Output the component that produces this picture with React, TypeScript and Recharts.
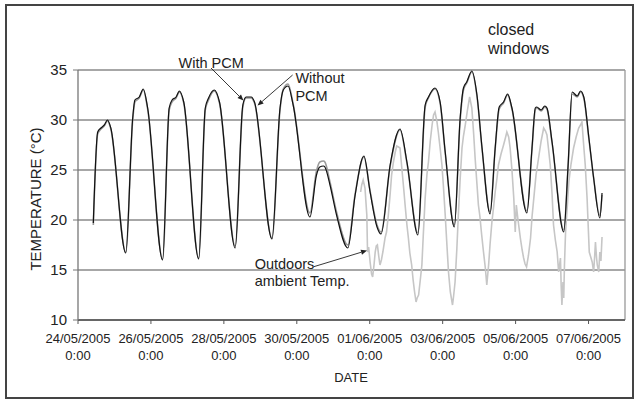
import { LineChart, Line, XAxis, YAxis, CartesianGrid, ReferenceLine } from "recharts"

// x positions in days after 24/05/2005 0:00
const tickDays = [0, 2, 4, 6, 8, 10, 12, 14]
const tickDates = [
  "24/05/2005",
  "26/05/2005",
  "28/05/2005",
  "30/05/2005",
  "01/06/2005",
  "03/06/2005",
  "05/06/2005",
  "07/06/2005"
]
const yTicks = [10, 15, 20, 25, 30, 35]

// With PCM (black)
const withPcmDays = [
  0.42, 0.54, 0.63, 0.72, 0.81, 0.9, 1.31, 1.5, 1.56, 1.68, 1.79, 1.91, 2.32, 2.5, 2.58, 2.69, 2.78, 2.9,
  3.31, 3.49, 3.58, 3.74, 3.88, 4.31, 4.52, 4.61, 4.75, 4.84, 5.32, 5.54, 5.63, 5.76, 5.9, 6.36, 6.54,
  6.63, 6.73, 6.77, 6.91, 7.09, 7.4, 7.6, 7.84, 8.01, 8.2, 8.31, 8.56, 8.83, 9.02, 9.32, 9.52, 9.61,
  9.79, 9.93, 10.07, 10.32, 10.48, 10.57, 10.66, 10.8, 10.94, 11.08, 11.3, 11.44, 11.55, 11.67, 11.78,
  11.9, 12.31, 12.45, 12.54, 12.58, 12.7, 12.8, 12.86, 13.0, 13.32, 13.44, 13.55, 13.69, 13.78, 13.87,
  14.01, 14.14, 14.31, 14.37
]
const withPcmTemps = [
  19.7, 28.8, 29.2, 29.5, 30.0, 29.2, 16.7, 30.2, 32.0, 32.3, 33.1, 31.2, 16.0, 31.2, 32.0, 32.3, 32.9, 31.8,
  16.1, 31.2, 32.2, 33.0, 31.8, 17.2, 31.5, 32.3, 32.3, 31.8, 18.1, 31.2, 33.0, 33.4, 31.5, 20.3, 24.5,
  25.3, 25.4, 25.3, 23.5, 20.5, 17.2, 22.5, 26.4, 22.8, 19.3, 18.6, 25.5, 29.1, 25.8, 18.5, 31.5, 32.3,
  33.2, 31.8, 26.8, 19.3, 30.2, 33.2, 33.8, 34.9, 32.5, 27.2, 20.6, 27.2, 31.3, 31.8, 32.6,
  31.2, 20.7, 27.2, 31.2, 31.3, 31.0, 31.4, 31.2, 27.8, 18.8, 25.5, 32.8, 32.4, 32.9, 32.3,
  28.2, 24.2, 20.2, 22.7
]

// Without PCM (dark grey)
const withoutPcmDays = [
  0.42, 0.54, 0.63, 0.72, 0.81, 0.9, 1.31, 1.5, 1.56, 1.68, 1.79, 1.91, 2.32, 2.5, 2.58, 2.69, 2.78, 2.9,
  3.31, 3.49, 3.58, 3.74, 3.88, 4.31, 4.52, 4.61, 4.75, 4.84, 5.32, 5.54, 5.63, 5.76, 5.9, 6.36, 6.54,
  6.63, 6.73, 6.77, 6.91, 7.09, 7.4, 7.6, 7.84, 8.01, 8.2, 8.31, 8.56, 8.83, 9.02, 9.32, 9.52, 9.61,
  9.79, 9.93, 10.07, 10.32, 10.48, 10.57, 10.66, 10.8, 10.94, 11.08, 11.3, 11.44, 11.55, 11.67, 11.78,
  11.9, 12.31, 12.45, 12.54, 12.58, 12.7, 12.8, 12.86, 13.0, 13.32, 13.44, 13.55, 13.69, 13.78, 13.87,
  14.01, 14.14, 14.31, 14.37
]
const withoutPcmTemps = [
  19.5, 28.6, 29.1, 29.4, 29.9, 29.1, 16.8, 30.0, 31.8, 32.2, 33.0, 31.1, 16.1, 31.0, 31.8, 32.2, 32.8, 31.7,
  16.2, 31.0, 32.0, 32.9, 31.7, 17.4, 31.3, 32.2, 32.2, 31.7, 18.2, 31.0, 33.1, 33.6, 31.6, 20.7, 24.9,
  25.8, 25.9, 25.8, 23.8, 20.8, 17.5, 22.6, 26.3, 22.9, 19.5, 18.8, 25.4, 29.0, 25.7, 18.7, 31.3, 32.2,
  33.1, 31.7, 26.7, 19.5, 30.0, 33.0, 33.7, 34.8, 32.4, 27.1, 20.8, 27.1, 31.1, 31.7, 32.5,
  31.1, 20.9, 27.1, 31.0, 31.2, 30.9, 31.3, 31.1, 27.7, 19.0, 25.4, 32.6, 32.3, 32.8, 32.2,
  28.1, 24.2, 20.4, 22.5
]

// Outdoors ambient temperature (light grey)
const outdoorDays = [
  7.75, 7.78, 7.82, 7.87, 7.92, 7.94, 7.97, 8.01, 8.05, 8.08, 8.12, 8.15, 8.18, 8.21, 8.25, 8.28, 8.32, 8.36,
  8.42, 8.46, 8.51, 8.56, 8.6, 8.65, 8.7, 8.74, 8.79, 8.83, 8.88, 8.93, 8.97, 9.02, 9.06, 9.1, 9.15, 9.19,
  9.23, 9.27, 9.3, 9.34, 9.38, 9.43, 9.47, 9.52, 9.57, 9.61, 9.66, 9.71, 9.75, 9.79, 9.84, 9.88, 9.93, 9.98,
  10.02, 10.07, 10.12, 10.16, 10.21, 10.27, 10.3, 10.34, 10.39, 10.43, 10.48, 10.53, 10.57, 10.62, 10.68,
  10.74, 10.8, 10.85, 10.89, 10.94, 10.98, 11.02, 11.07, 11.12, 11.17, 11.21, 11.26, 11.3, 11.35, 11.4,
  11.44, 11.49, 11.53, 11.6, 11.67, 11.72, 11.76, 11.81, 11.85, 11.9, 11.95, 11.99, 12.02, 12.06, 12.13,
  12.18, 12.22, 12.26, 12.3, 12.35, 12.41, 12.45, 12.5, 12.56, 12.63, 12.7, 12.77, 12.82, 12.86, 12.9,
  12.95, 13.0, 13.04, 13.09, 13.14, 13.18, 13.23, 13.25, 13.27, 13.3, 13.32, 13.34, 13.37, 13.42, 13.46,
  13.52, 13.59, 13.66, 13.73, 13.78, 13.82, 13.86, 13.91, 13.96, 14.02, 14.06, 14.1, 14.14, 14.17, 14.19,
  14.22, 14.24, 14.28, 14.31, 14.34, 14.37
]
const outdoorTemps = [
  22.8, 23.5, 24.0, 23.2, 20.5, 16.8, 17.3, 15.8, 14.6, 14.3, 15.6, 16.8, 17.4, 17.5, 16.3, 15.5, 16.0, 16.8,
  18.2, 18.8, 20.5, 22.6, 24.5, 25.8, 26.8, 27.4, 27.3, 27.2, 25.2, 23.2, 21.5, 19.5, 18.2, 16.7, 15.5, 14.0,
  12.8, 11.8, 12.2, 12.5, 13.8, 15.5, 18.6, 22.2, 24.6, 25.8, 27.9, 29.5, 30.5, 30.8, 29.9, 28.8, 27.2, 25.5,
  23.4, 20.5, 17.3, 14.8, 12.8, 11.5, 12.4, 13.8, 17.2, 20.5, 24.1, 27.2, 28.4, 29.5, 31.0,
  32.3, 31.2, 28.6, 26.2, 23.6, 21.5, 20.4, 18.5, 16.8, 15.2, 13.5, 15.5, 17.6, 19.8, 21.4,
  22.8, 24.2, 25.5, 26.6, 27.5, 28.2, 28.8, 28.3, 27.2, 25.0, 22.2, 18.8, 21.5, 20.2, 18.2,
  17.0, 16.2, 15.6, 15.3, 16.4, 18.2, 20.3, 22.2, 24.5, 26.2, 27.9, 29.2, 28.9, 28.5, 27.2,
  25.5, 22.6, 19.5, 18.0, 16.8, 14.8, 16.2, 13.4, 11.5, 13.8, 12.2, 15.5, 18.8, 21.5, 23.8,
  25.6, 27.2, 28.3, 29.2, 29.5, 29.8, 27.8, 25.5, 22.2, 16.8, 16.3, 15.8, 14.8, 16.5, 17.8,
  16.2, 15.5, 14.8, 16.8, 15.9, 18.3
]

const toPoints = (days: number[], temps: number[]) =>
  days.map((d, i) => ({ day: d, temp: temps[i] }))

const withPcm = toPoints(withPcmDays, withPcmTemps)
const withoutPcm = toPoints(withoutPcmDays, withoutPcmTemps)
const outdoor = toPoints(outdoorDays, outdoorTemps)

// two-line date tick
const DateTick = ({ x, y, payload }: any) => {
  const i = tickDays.indexOf(payload.value)
  return (
    <text x={x} y={y} textAnchor="middle" fontSize={13} fill="#222">
      <tspan x={x} dy={16.5}>{tickDates[i]}</tspan>
      <tspan x={x} dy={17.7}>0:00</tspan>
    </text>
  )
}

const Arrow = ({ x1, y1, x2, y2 }: any) => {
  const a = Math.atan2(y2 - y1, x2 - x1)
  const L = 6
  const w = 2.5
  const bx = x2 - L * Math.cos(a)
  const by = y2 - L * Math.sin(a)
  const p1 = `${bx + w * Math.sin(a)},${by - w * Math.cos(a)}`
  const p2 = `${bx - w * Math.sin(a)},${by + w * Math.cos(a)}`
  return (
    <g>
      <line x1={x1} y1={y1} x2={bx} y2={by} stroke="#222" strokeWidth={0.9} />
      <polygon points={`${x2},${y2} ${p1} ${p2}`} fill="#222" />
    </g>
  )
}

export default function App() {
  return (
    <div
      style={{
        position: "absolute",
        left: 0,
        top: 0,
        width: 639,
        height: 400,
        background: "#fff",
        fontFamily: "Arial, 'Liberation Sans', sans-serif"
      }}
    >
      <LineChart
        width={639}
        height={400}
        margin={{ top: 70, right: 14, bottom: 0, left: 0 }}
        style={{ position: "absolute", left: 0, top: 0 }}
      >
        <CartesianGrid vertical={false} stroke="#8a8a8a" strokeWidth={1.3} />
        <XAxis
          dataKey="day"
          type="number"
          domain={[0, 15]}
          ticks={tickDays}
          tick={<DateTick />}
          tickSize={4}
          tickMargin={2}
          height={80}
          axisLine={{ stroke: "#666", strokeWidth: 2 }}
          tickLine={{ stroke: "#555" }}
          allowDuplicatedCategory={false}
        />
        <YAxis
          type="number"
          domain={[10, 35]}
          ticks={yTicks}
          width={78}
          tickSize={5}
          tickMargin={6}
          tick={{ fontSize: 15, fill: "#222" }}
          axisLine={{ stroke: "#777", strokeWidth: 1.3 }}
          tickLine={{ stroke: "#777" }}
        />
        <ReferenceLine x={15} stroke="#999" strokeWidth={1.3} />
        <Line
          data={outdoor}
          dataKey="temp"
          type="linear"
          stroke="#c6c6c6"
          strokeWidth={1.6}
          dot={false}
          isAnimationActive={false}
        />
        <Line
          data={withoutPcm}
          dataKey="temp"
          type="monotone"
          stroke="#9a9a9a"
          strokeWidth={1.6}
          dot={false}
          isAnimationActive={false}
        />
        <Line
          data={withPcm}
          dataKey="temp"
          type="monotone"
          stroke="#111"
          strokeWidth={1.2}
          dot={false}
          isAnimationActive={false}
        />
      </LineChart>

      <svg
        width={639}
        height={400}
        style={{ position: "absolute", left: 0, top: 0, pointerEvents: "none" }}
      >
        <rect x={6} y={5} width={627} height={393} fill="none" stroke="#444" strokeWidth={2} />
        <text
          x={35}
          y={199}
          fontSize={15}
          fill="#222"
          textAnchor="middle"
          dominantBaseline="central"
          transform="rotate(-90 35 199)"
        >
          TEMPERATURE (°C)
        </text>
        <text x={351} y={377} fontSize={13} fill="#222" textAnchor="middle" dominantBaseline="central">
          DATE
        </text>
        <text x={488} y={29} fontSize={16} fill="#222" dominantBaseline="central">
          closed
        </text>
        <text x={488} y={48} fontSize={16} fill="#222" dominantBaseline="central">
          windows
        </text>
        <text x={178.5} y={62.7} fontSize={14.5} fill="#222" dominantBaseline="central">
          With PCM
        </text>
        <text x={295.4} y={78.3} fontSize={14.5} fill="#222" dominantBaseline="central">
          Without
        </text>
        <text x={295.4} y={95.7} fontSize={14.5} fill="#222" dominantBaseline="central">
          PCM
        </text>
        <text x={254.7} y={264} fontSize={14.5} fill="#222" dominantBaseline="central">
          Outdoors
        </text>
        <text x={254.7} y={281} fontSize={14.5} fill="#222" dominantBaseline="central">
          ambient Temp.
        </text>
        <Arrow x1={211} y1={68} x2={243.5} y2={100.5} />
        <Arrow x1={292.6} y1={75} x2={257.5} y2={105.5} />
        <Arrow x1={313.8} y1={266.7} x2={367} y2={250.5} />
      </svg>
    </div>
  )
}
